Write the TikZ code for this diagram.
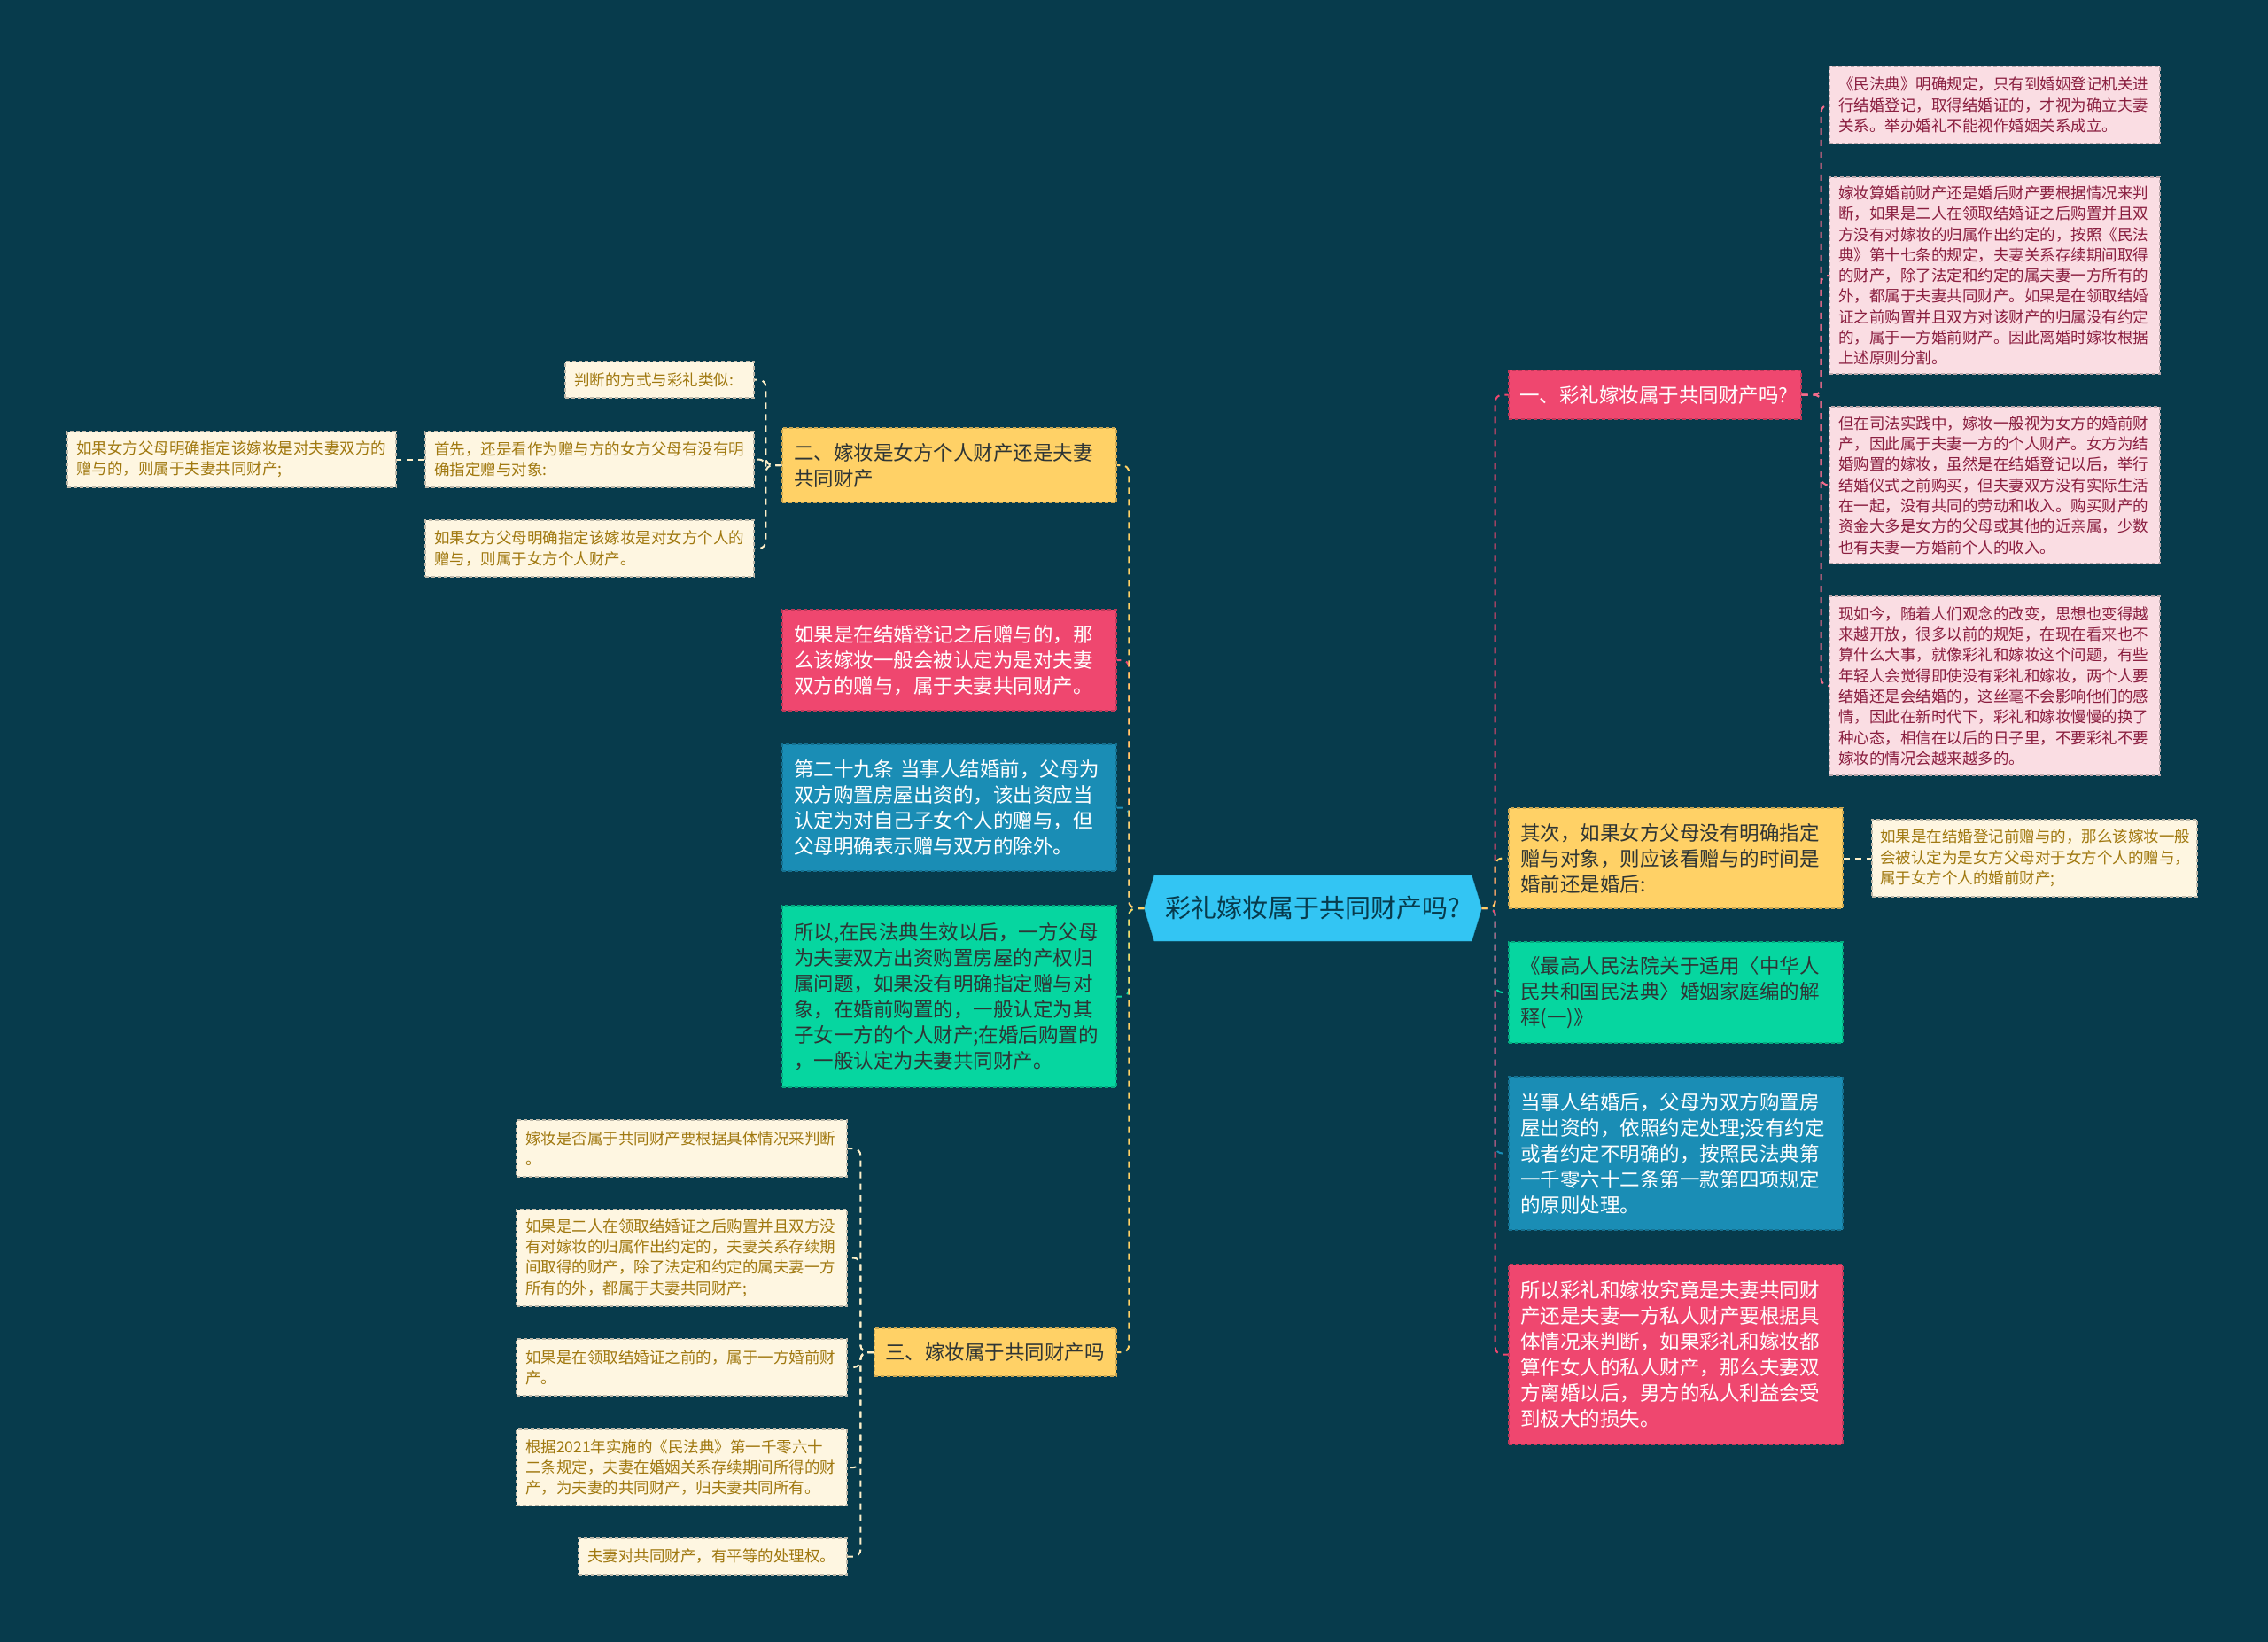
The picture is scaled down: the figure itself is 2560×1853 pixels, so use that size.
\documentclass[tikz,border=0pt]{standalone}
\usepackage{fontspec}
\newfontfamily\cjk{Noto Sans CJK SC}
\usetikzlibrary{shapes.symbols}

\definecolor{bgc}{HTML}{073B4C}
\definecolor{rootc}{HTML}{33C5F3}
\definecolor{pinkc}{HTML}{EF476F}
\definecolor{yelc}{HTML}{FFD166}
\definecolor{grnc}{HTML}{06D6A0}
\definecolor{bluc}{HTML}{1A8DB5}
\definecolor{lpink}{HTML}{FADDE3}
\definecolor{lpinktxt}{HTML}{8A1E3F}
\definecolor{cream}{HTML}{FEF6E1}
\definecolor{creamtxt}{HTML}{A0780F}
\definecolor{darktxt}{HTML}{2E3535}

\begin{document}
\begin{tikzpicture}[x=1pt, y=-1pt,
    root/.style={signal, signal to=east and west, signal pointer angle=146,
      fill=rootc, draw=rootc!85!black, minimum width=381pt, minimum height=74pt,
      inner sep=2pt, text=bgc, font=\cjk\fontsize{29}{35}\selectfont},
    mainbox/.style={rectangle, fill=#1, draw=#1!80!black, line width=1.2pt,
      dash pattern=on 4pt off 3pt, align=left, inner xsep=13pt, inner ysep=3pt,
      text width=351pt, font=\cjk\fontsize{22.5}{29}\selectfont},
    leaf/.style={rectangle, fill=cream, draw=cream!75!black, text=creamtxt,
      line width=1.2pt, dash pattern=on 4pt off 3pt, align=left,
      inner xsep=10pt, inner ysep=3pt, text width=353pt,
      font=\cjk\fontsize{17.5}{23.3}\selectfont},
    pleaf/.style={leaf, fill=lpink, draw=lpink!75!black, text=lpinktxt},
    link/.style={draw=#1, line width=2pt, dash pattern=on 7pt off 6pt,
      rounded corners=8pt}
  ]
  \fill[bgc] (0,0) rectangle (2560,1853);
  \useasboundingbox (0,0) rectangle (2560,1853);

  \node[root] (root) at (1482,1025) {彩礼嫁妆属于共同财产吗?};

  % right side
  \node[mainbox=pinkc, text=white, inner xsep=12pt, text width=306pt, minimum height=55pt] (one) at (1868,445.5) {一、彩礼嫁妆属于共同财产吗?};
  \node[pleaf, minimum height=87pt] (p1) at (2251.5,118.5) {《民法典》明确规定，只有到婚姻登记机关进\\行结婚登记，取得结婚证的，才视为确立夫妻\\关系。举办婚礼不能视作婚姻关系成立。};
  \node[pleaf, minimum height=222pt] (p2) at (2251.5,311) {嫁妆算婚前财产还是婚后财产要根据情况来判\\断，如果是二人在领取结婚证之后购置并且双\\方没有对嫁妆的归属作出约定的，按照《民法\\典》第十七条的规定，夫妻关系存续期间取得\\的财产，除了法定和约定的属夫妻一方所有的\\外，都属于夫妻共同财产。如果是在领取结婚\\证之前购置并且双方对该财产的归属没有约定\\的，属于一方婚前财产。因此离婚时嫁妆根据\\上述原则分割。};
  \node[pleaf, minimum height=177pt] (p3) at (2251.5,547.5) {但在司法实践中，嫁妆一般视为女方的婚前财\\产，因此属于夫妻一方的个人财产。女方为结\\婚购置的嫁妆，虽然是在结婚登记以后，举行\\结婚仪式之前购买，但夫妻双方没有实际生活\\在一起，没有共同的劳动和收入。购买财产的\\资金大多是女方的父母或其他的近亲属，少数\\也有夫妻一方婚前个人的收入。};
  \node[pleaf, minimum height=202pt] (p4) at (2251.5,774) {现如今，随着人们观念的改变，思想也变得越\\来越开放，很多以前的规矩，在现在看来也不\\算什么大事，就像彩礼和嫁妆这个问题，有些\\年轻人会觉得即使没有彩礼和嫁妆，两个人要\\结婚还是会结婚的，这丝毫不会影响他们的感\\情，因此在新时代下，彩礼和嫁妆慢慢的换了\\种心态，相信在以后的日子里，不要彩礼不要\\嫁妆的情况会越来越多的。};

  \node[mainbox=yelc, text=darktxt, minimum height=113pt] (second) at (1891.5,968.5) {其次，如果女方父母没有明确指定\\赠与对象，则应该看赠与的时间是\\婚前还是婚后:};
  \node[leaf, inner xsep=9pt, text width=349pt, minimum height=87pt] (s1) at (2296.5,968.5) {如果是在结婚登记前赠与的，那么该嫁妆一般\\会被认定为是女方父母对于女方个人的赠与，\\属于女方个人的婚前财产;};
  \node[mainbox=grnc, text=darktxt, minimum height=114pt] (interp) at (1891.5,1120) {《最高人民法院关于适用〈中华人\\民共和国民法典〉婚姻家庭编的解\\释(一)》};
  \node[mainbox=bluc, text=white, minimum height=173pt] (after) at (1891.5,1301.5) {当事人结婚后，父母为双方购置房\\屋出资的，依照约定处理;没有约定\\或者约定不明确的，按照民法典第\\一千零六十二条第一款第四项规定\\的原则处理。};
  \node[mainbox=pinkc, text=white, minimum height=203pt] (concl) at (1891.5,1528.5) {所以彩礼和嫁妆究竟是夫妻共同财\\产还是夫妻一方私人财产要根据具\\体情况来判断，如果彩礼和嫁妆都\\算作女人的私人财产，那么夫妻双\\方离婚以后，男方的私人利益会受\\到极大的损失。};

  % left side
  \node[mainbox=yelc, text=darktxt, minimum height=84pt] (two) at (1071.5,525) {二、嫁妆是女方个人财产还是夫妻\\共同财产};
  \node[leaf, text width=193pt, minimum height=41pt] (t1) at (744.5,428.5) {判断的方式与彩礼类似:};
  \node[leaf, text width=351pt, minimum height=63pt] (t2) at (665.5,518.5) {首先，还是看作为赠与方的女方父母有没有明\\确指定赠与对象:};
  \node[leaf, text width=351pt, minimum height=64pt] (t3) at (665.5,619) {如果女方父母明确指定该嫁妆是对女方个人的\\赠与，则属于女方个人财产。};
  \node[leaf, text width=351pt, minimum height=63pt] (t2a) at (261.5,518.5) {如果女方父母明确指定该嫁妆是对夫妻双方的\\赠与的，则属于夫妻共同财产;};

  \node[mainbox=pinkc, text=white, minimum height=114pt] (after2) at (1071.5,745) {如果是在结婚登记之后赠与的，那\\么该嫁妆一般会被认定为是对夫妻\\双方的赠与，属于夫妻共同财产。};
  \node[mainbox=bluc, text=white, minimum height=143pt] (art29) at (1071.5,911.5) {第二十九条 当事人结婚前，父母为\\双方购置房屋出资的，该出资应当\\认定为对自己子女个人的赠与，但\\父母明确表示赠与双方的除外。};
  \node[mainbox=grnc, text=darktxt, minimum height=205pt] (sothen) at (1071.5,1124.5) {所以,在民法典生效以后，一方父母\\为夫妻双方出资购置房屋的产权归\\属问题，如果没有明确指定赠与对\\象，在婚前购置的，一般认定为其\\子女一方的个人财产;在婚后购置的\\，一般认定为夫妻共同财产。};

  \node[mainbox=yelc, text=darktxt, inner xsep=12pt, text width=249pt, minimum height=54pt] (three) at (1123.5,1526) {三、嫁妆属于共同财产吗};
  \node[leaf, minimum height=64pt] (h1) at (769.5,1296) {嫁妆是否属于共同财产要根据具体情况来判断\\。};
  \node[leaf, minimum height=109pt] (h2) at (769.5,1419.5) {如果是二人在领取结婚证之后购置并且双方没\\有对嫁妆的归属作出约定的，夫妻关系存续期\\间取得的财产，除了法定和约定的属夫妻一方\\所有的外，都属于夫妻共同财产;};
  \node[leaf, minimum height=64pt] (h3) at (769.5,1543) {如果是在领取结婚证之前的，属于一方婚前财\\产。};
  \node[leaf, minimum height=86pt] (h4) at (769.5,1656) {根据2021年实施的《民法典》第一千零六十\\二条规定，夫妻在婚姻关系存续期间所得的财\\产，为夫妻的共同财产，归夫妻共同所有。};
  \node[leaf, text width=283pt, minimum height=41pt] (h5) at (804.5,1756.5) {夫妻对共同财产，有平等的处理权。};

  % connectors, right
  \draw[link=grnc] (root.east) -- ++(15,0) |- (interp.west);
  \draw[link=bluc] (root.east) -- ++(15,0) |- (after.west);
  \draw[link=pinkc] (root.east) -- ++(15,0) |- (concl.west);
  \draw[link=pinkc] (root.east) -- ++(15,0) |- (one.west);
  \draw[link=yelc] (root.east) -- ++(15,0) |- (second.west);
  \foreach \n in {p1,p2,p3,p4}
    \draw[link=pinkc!80!white] (one.east) -- ++(22,0) |- (\n.west);
  \draw[link=cream!80!yelc] (second.east) -- (s1.west);

  % connectors, left
  \draw[link=pinkc] (root.west) -- ++(-17,0) |- (after2.east);
  \draw[link=bluc] (root.west) -- ++(-17,0) |- (art29.east);
  \draw[link=grnc] (root.west) -- ++(-17,0) |- (sothen.east);
  \draw[link=yelc] (root.west) -- ++(-17,0) |- (two.east);
  \draw[link=yelc] (root.west) -- ++(-17,0) |- (three.east);
  \foreach \n in {t1,t2,t3}
    \draw[link=cream!80!yelc] (two.west) -- ++(-18,0) |- (\n.east);
  \draw[link=cream!80!yelc] (t2.west) -- (t2a.east);
  \foreach \n in {h1,h2,h3,h4,h5}
    \draw[link=cream!80!yelc] (three.west) -- ++(-15,0) |- (\n.east);
\end{tikzpicture}
\end{document}
